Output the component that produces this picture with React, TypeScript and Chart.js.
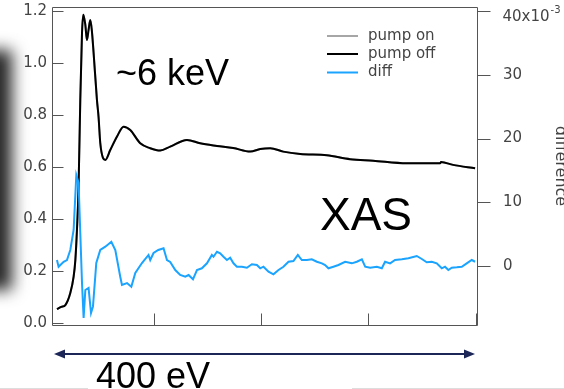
import React, { useEffect, useRef } from 'react';
import { Chart, registerables } from 'chart.js';

Chart.register(...registerables);

// ---- data (energy in relative units; tick marks at 100 / 200 / 300 / 400) ----
const xTickValues = [100, 200, 300, 400];
const leftTicks = [0, 0.2, 0.4, 0.6, 0.8, 1.0, 1.2];
const rightTicks = [0, 10, 20, 30, 40];

const offEnergy = [10.1, 14.1, 17.9, 22.5, 25.6, 27.2, 28.7, 30.2, 31.8, 33.4, 34.6, 36.5, 38.0, 39.5, 41.1, 42.5, 44.2, 47.3, 48.8, 50.4, 52.9, 55.1, 59.7, 66.0, 72.1, 78.3, 87.6, 96.9, 106.2, 115.5, 131.1, 143.4, 159.0, 174.1, 190.0, 199.3, 208.6, 220.7, 236.5, 261.3, 283.0, 304.4, 335.7, 366.7, 367.6, 378.8, 399.3];
const pumpOff = [0.053, 0.062, 0.069, 0.115, 0.178, 0.242, 0.358, 0.523, 0.858, 1.115, 1.185, 1.146, 1.088, 1.127, 1.165, 1.127, 1.038, 0.858, 0.792, 0.692, 0.635, 0.627, 0.665, 0.717, 0.755, 0.742, 0.691, 0.672, 0.663, 0.678, 0.704, 0.691, 0.681, 0.673, 0.659, 0.669, 0.672, 0.659, 0.650, 0.645, 0.630, 0.624, 0.614, 0.614, 0.619, 0.608, 0.595];
// pump on lies underneath pump off (indistinguishable at this scale)
const pumpOn = [0.053, 0.062, 0.069, 0.115, 0.178, 0.242, 0.358, 0.523, 0.858, 1.115, 1.185, 1.146, 1.088, 1.127, 1.165, 1.127, 1.038, 0.858, 0.792, 0.692, 0.635, 0.627, 0.665, 0.717, 0.755, 0.742, 0.691, 0.672, 0.663, 0.678, 0.704, 0.691, 0.681, 0.673, 0.659, 0.669, 0.672, 0.659, 0.650, 0.645, 0.630, 0.624, 0.614, 0.614, 0.619, 0.608, 0.595];

const diffEnergy = [10.1, 11.6, 16.3, 19.4, 22.5, 25.6, 28.1, 30.2, 31.8, 33.4, 34.9, 36.5, 39.5, 41.8, 43.6, 46.7, 50.4, 55.1, 60.7, 64.4, 69.0, 70.6, 75.3, 79.3, 83.0, 89.2, 95.3, 96.9, 100.0, 104.4, 109.3, 112.5, 115.5, 120.2, 124.8, 129.5, 132.6, 136.7, 140.4, 145.0, 149.7, 154.3, 155.8, 159.0, 162.0, 165.1, 168.3, 171.3, 174.4, 177.6, 182.2, 186.9, 191.5, 196.2, 199.3, 202.3, 207.0, 211.6, 216.3, 220.9, 225.6, 230.2, 234.3, 238.0, 242.7, 247.3, 252.0, 256.7, 259.7, 262.8, 267.4, 272.1, 278.3, 284.6, 289.2, 293.9, 297.0, 301.6, 307.8, 312.5, 315.5, 320.2, 324.8, 331.1, 337.2, 345.0, 349.7, 354.3, 359.0, 363.6, 368.3, 371.3, 374.4, 377.6, 382.2, 386.9, 391.5, 396.2, 399.3];
const diffValues = [0.94, -0.11, 0.67, 0.94, 2.51, 5.65, 14.27, 13.02, 5.18, -2.67, -8.16, -3.76, -3.45, -7.37, -6.38, 0.47, 2.51, 3.03, 3.81, 2.51, -1.68, -2.98, -2.67, -3.25, -1.10, 0.47, 1.73, 0.94, 2.04, 2.51, 2.78, 0.94, 0.63, -0.63, -1.41, -1.68, -1.41, -2.09, -0.63, -0.36, 0.42, 1.73, 1.46, 2.24, 1.99, 1.46, 0.94, 1.30, 0.42, -0.11, -0.11, -0.27, 0.27, 0.16, -0.36, -0.11, -0.89, -1.30, -0.63, -0.11, 0.67, 0.78, 1.73, 0.94, 0.94, 1.05, 0.67, 0.42, 0.16, -0.36, -0.11, 0.16, 0.67, 0.42, 0.67, 1.05, -0.11, -0.27, -0.11, -0.36, 0.67, 0.42, 0.94, 1.05, 1.21, 1.57, 1.10, 0.58, 0.67, 0.42, -0.36, -0.11, -0.63, -0.27, -0.20, -0.11, 0.42, 0.94, 0.67];

const seriesLabels = ['pump on', 'pump off', 'diff'];
const seriesColors = ['#a6a6a6', '#000000', '#1aa3ff'];

const FONT = "'DejaVu Sans', Verdana, sans-serif";
const BIG = "'Liberation Sans', Arial, sans-serif";

const noPad = (s: any) => {
  s.paddingTop = 0;
  s.paddingBottom = 0;
  s.paddingLeft = 0;
  s.paddingRight = 0;
};

const decor = {
  id: 'decor',
  beforeDraw(chart: any) {
    const ctx = chart.ctx;
    ctx.save();
    ctx.filter = 'blur(8px)';
    ctx.fillStyle = '#262626';
    ctx.fillRect(-40, 50, 52, 240);
    ctx.restore();
  },
  afterDraw(chart: any) {
    const { ctx, chartArea: a, scales } = chart;
    ctx.save();
    // frame
    ctx.strokeStyle = '#555';
    ctx.lineWidth = 1;
    const L = Math.round(a.left) - 0.5;
    const R = Math.round(a.right) - 0.5;
    const T = Math.round(a.top) + 0.5;
    const B = Math.round(a.bottom) - 0.5;
    ctx.beginPath();
    ctx.moveTo(L, T); ctx.lineTo(R, T); ctx.lineTo(R, B); ctx.lineTo(L, B); ctx.closePath();
    // left ticks (inward)
    leftTicks.forEach((v) => {
      const y = Math.round(scales.y.getPixelForValue(v)) + 0.5;
      ctx.moveTo(L, y); ctx.lineTo(L + 11, y);
    });
    // right ticks (outward)
    rightTicks.forEach((v) => {
      const y = Math.round(scales.y1.getPixelForValue(v)) + 0.5;
      ctx.moveTo(R, y); ctx.lineTo(R + 13, y);
    });
    // bottom ticks (inward)
    xTickValues.forEach((v) => {
      const x = Math.round(scales.x.getPixelForValue(v)) + 0.5;
      ctx.moveTo(x, B); ctx.lineTo(x, B - 12);
    });
    ctx.stroke();

    // exponent label on the top right tick
    const y40 = scales.y1.getPixelForValue(40);
    ctx.fillStyle = '#444';
    ctx.font = `15px ${FONT}`;
    ctx.textBaseline = 'middle';
    ctx.textAlign = 'left';
    ctx.fillText('40x10', R + 25, y40 + 6);
    const w = ctx.measureText('40x10').width;
    ctx.font = `10px ${FONT}`;
    ctx.textBaseline = 'alphabetic';
    ctx.fillText('-3', R + 25 + w + 1, y40 + 2);

    // right axis title
    ctx.save();
    ctx.translate(556, 166);
    ctx.rotate(Math.PI / 2);
    ctx.font = `16px ${FONT}`;
    ctx.textAlign = 'center';
    ctx.textBaseline = 'alphabetic';
    ctx.fillStyle = '#444';
    ctx.fillText('difference', 0, 0);
    ctx.restore();

    // legend
    const rows = [36, 54, 72.5];
    chart.data.datasets.forEach((ds: any, i: number) => {
      ctx.strokeStyle = ds.borderColor;
      ctx.lineWidth = 2;
      ctx.beginPath();
      ctx.moveTo(327, rows[i]); ctx.lineTo(358, rows[i]);
      ctx.stroke();
      ctx.fillStyle = '#444';
      ctx.font = `15px ${FONT}`;
      ctx.textBaseline = 'middle';
      ctx.textAlign = 'left';
      ctx.fillText(ds.label, 368, rows[i]);
    });

    // annotations
    ctx.fillStyle = '#000';
    ctx.textBaseline = 'alphabetic';
    ctx.textAlign = 'left';
    ctx.font = `36px ${BIG}`;
    ctx.fillText('~6 keV', 116, 85);
    ctx.font = `46px ${BIG}`;
    ctx.fillText('XAS', 320, 230);
    ctx.font = `36px ${BIG}`;
    ctx.fillText('400 eV', 96, 388);

    // double arrow spanning 400 eV
    const ay = 354;
    const ax0 = 54, ax1 = 475;
    ctx.strokeStyle = '#1c2657';
    ctx.fillStyle = '#1c2657';
    ctx.lineWidth = 2;
    ctx.beginPath();
    ctx.moveTo(ax0 + 8, ay); ctx.lineTo(ax1 - 8, ay);
    ctx.stroke();
    ctx.beginPath();
    ctx.moveTo(ax0, ay); ctx.lineTo(ax0 + 11, ay - 4.5); ctx.lineTo(ax0 + 11, ay + 4.5); ctx.closePath();
    ctx.fill();
    ctx.beginPath();
    ctx.moveTo(ax1, ay); ctx.lineTo(ax1 - 11, ay - 4.5); ctx.lineTo(ax1 - 11, ay + 4.5); ctx.closePath();
    ctx.fill();

    // faint slide edge lines at the bottom
    ctx.strokeStyle = '#dddddd';
    ctx.lineWidth = 1;
    ctx.beginPath();
    ctx.moveTo(0, 388.5); ctx.lineTo(88, 388.5);
    ctx.moveTo(352, 388.5); ctx.lineTo(564, 388.5);
    ctx.stroke();
    ctx.restore();
  },
};

export default function App() {
  const ref = useRef<HTMLCanvasElement>(null);
  useEffect(() => {
    if (!ref.current) return;
    const chart = new Chart(ref.current, {
      type: 'line',
      data: {
        datasets: [
          {
            label: seriesLabels[0],
            data: offEnergy.map((x, i) => ({ x, y: pumpOn[i] })),
            borderColor: seriesColors[0],
            borderWidth: 2,
            pointRadius: 0,
            cubicInterpolationMode: 'monotone',
            yAxisID: 'y',
            order: 3,
          },
          {
            label: seriesLabels[1],
            data: offEnergy.map((x, i) => ({ x, y: pumpOff[i] })),
            borderColor: seriesColors[1],
            borderWidth: 2,
            pointRadius: 0,
            cubicInterpolationMode: 'monotone',
            yAxisID: 'y',
            order: 2,
          },
          {
            label: seriesLabels[2],
            data: diffEnergy.map((x, i) => ({ x, y: diffValues[i] })),
            borderColor: seriesColors[2],
            borderWidth: 2,
            pointRadius: 0,
            tension: 0,
            yAxisID: 'y1',
            order: 1,
          },
        ],
      },
      options: {
        responsive: false,
        animation: false,
        devicePixelRatio: 1,
        layout: { padding: { top: 7, left: 0, right: 0, bottom: 0 }, autoPadding: false },
        plugins: { legend: { display: false }, tooltip: { enabled: false } },
        scales: {
          x: {
            type: 'linear',
            min: 6.4,
            max: 402,
            ticks: { display: false },
            afterBuildTicks: (s: any) => { s.ticks = xTickValues.map((value) => ({ value })); },
            grid: { display: false, drawTicks: false },
            border: { display: false },
            afterFit: (s: any) => { s.height = 63; noPad(s); },
          },
          y: {
            type: 'linear',
            position: 'left',
            min: -0.0115,
            max: 1.215,
            afterBuildTicks: (s: any) => { s.ticks = leftTicks.map((value) => ({ value })); },
            ticks: {
              padding: 6,
              color: '#444',
              autoSkip: false,
              font: { family: FONT, size: 15 },
              callback: (v: any) => Number(v).toFixed(1),
            },
            grid: { display: false, drawTicks: false },
            border: { display: false },
            afterFit: (s: any) => { s.width = 53; noPad(s); },
          },
          y1: {
            type: 'linear',
            position: 'right',
            min: -9.41,
            max: 40.63,
            afterBuildTicks: (s: any) => { s.ticks = rightTicks.map((value) => ({ value })); },
            ticks: {
              padding: 25,
              color: '#444',
              autoSkip: false,
              font: { family: FONT, size: 15 },
              callback: (v: any) => (Number(v) === 40 ? '' : String(v)),
            },
            grid: { display: false, drawTicks: false },
            border: { display: false },
            afterFit: (s: any) => { s.width = 86; noPad(s); },
          },
        },
      },
      plugins: [decor],
    });
    return () => chart.destroy();
  }, []);
  return (
    <canvas
      ref={ref}
      width={564}
      height={389}
      style={{ position: 'fixed', left: 0, top: 0, width: 564, height: 389 }}
    />
  );
}
